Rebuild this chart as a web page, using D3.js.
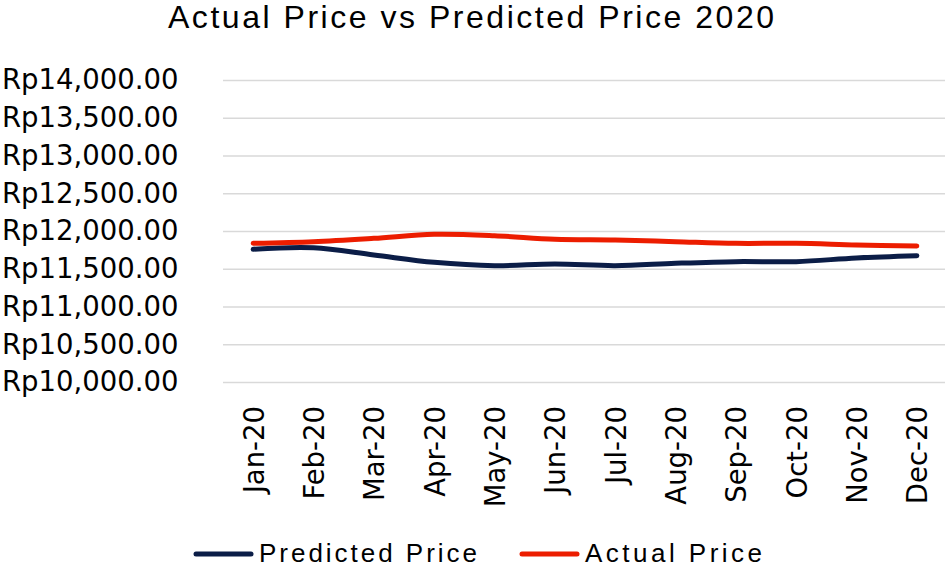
<!DOCTYPE html>
<html>
<head>
<meta charset="utf-8">
<script src="https://cdn.jsdelivr.net/npm/d3@7"></script>
<style>
  html, body { margin: 0; padding: 0; background: #fff; }
  svg { display: block; }
</style>
</head>
<body>
<div id="chart"></div>
<script>
// Actual vs predicted monthly price, 2020
var months    = ['Jan-20', 'Feb-20', 'Mar-20', 'Apr-20', 'May-20', 'Jun-20',
                 'Jul-20', 'Aug-20', 'Sep-20', 'Oct-20', 'Nov-20', 'Dec-20'];
var actual    = [11837, 11859, 11903, 11956, 11938, 11890, 11881, 11859, 11837, 11837, 11815, 11801];
var predicted = [11758, 11777, 11682, 11585, 11541, 11563, 11541, 11572, 11594, 11594, 11643, 11673];
var yTicks    = [10000, 10500, 11000, 11500, 12000, 12500, 13000, 13500, 14000];

var W = 945, H = 569;
var NAVY = '#0b1d47', RED = '#ec1d00';

var svg = d3.select('#chart').append('svg')
  .attr('width', W).attr('height', H)
  .attr('viewBox', '0 0 ' + W + ' ' + H);

var x = d3.scalePoint().domain(months).range([223, 947]).padding(0.5);
var y = d3.scaleLinear().domain([10000, 14000]).range([382, 80]);

var fmt = d3.format(',.2f');

// Title (stretched spacing to match the wider original face)
svg.append('text')
  .attr('x', 168).attr('y', 28)
  .attr('font-family', 'Liberation Sans, Arial, sans-serif')
  .attr('font-size', 32)
  .attr('textLength', 606)
  .attr('lengthAdjust', 'spacing')
  .attr('fill', '#000')
  .text('Actual Price vs Predicted Price 2020');

// Gridlines + y labels
var yAxis = d3.axisLeft(y)
  .tickValues(yTicks)
  .tickSize(-(947 - 223))
  .tickPadding(40)
  .tickFormat(function(d) { return 'Rp' + fmt(d); });

var gy = svg.append('g')
  .attr('transform', 'translate(223,0)')
  .call(yAxis);
gy.select('.domain').remove();
gy.selectAll('.tick line')
  .attr('stroke', '#d9d9d9')
  .attr('stroke-width', 1.5);
gy.selectAll('.tick text')
  .attr('x', -221)
  .attr('text-anchor', 'start')
  .attr('font-family', 'DejaVu Sans, sans-serif')
  .attr('font-size', 27.5)
  .attr('fill', '#000');

// X labels, rotated
var xAxis = d3.axisBottom(x).tickSize(0).tickPadding(0);
var gx = svg.append('g')
  .attr('transform', 'translate(0,382)')
  .call(xAxis);
gx.select('.domain').remove();
gx.selectAll('.tick text')
  .attr('transform', 'rotate(-90)')
  .attr('x', -24)
  .attr('y', 0)
  .attr('dy', '0.36em')
  .attr('text-anchor', 'end')
  .attr('font-family', 'DejaVu Sans, sans-serif')
  .attr('font-size', 27.5)
  .attr('fill', '#000');

// Lines
var line = d3.line()
  .x(function(d, i) { return x(months[i]); })
  .y(function(d) { return y(d); })
  .curve(d3.curveCatmullRom);

svg.append('path')
  .datum(predicted)
  .attr('d', line)
  .attr('fill', 'none')
  .attr('stroke', NAVY)
  .attr('stroke-width', 5)
  .attr('stroke-linecap', 'round')
  .attr('stroke-linejoin', 'round');

svg.append('path')
  .datum(actual)
  .attr('d', line)
  .attr('fill', 'none')
  .attr('stroke', RED)
  .attr('stroke-width', 5)
  .attr('stroke-linecap', 'round')
  .attr('stroke-linejoin', 'round');

// Legend
var legend = [
  { name: 'Predicted Price', color: NAVY, x: 196, w: 218 },
  { name: 'Actual Price',    color: RED,  x: 522, w: 177 }
];
var lg = svg.append('g').selectAll('g').data(legend).enter().append('g')
  .attr('transform', function(d) { return 'translate(' + d.x + ',554)'; });
lg.append('line')
  .attr('x1', 0).attr('x2', 55).attr('y1', 0).attr('y2', 0)
  .attr('stroke', function(d) { return d.color; })
  .attr('stroke-width', 5)
  .attr('stroke-linecap', 'round');
lg.append('text')
  .attr('x', 63).attr('y', 8)
  .attr('font-family', 'Liberation Sans, Arial, sans-serif')
  .attr('font-size', 26)
  .attr('textLength', function(d) { return d.w; })
  .attr('lengthAdjust', 'spacing')
  .attr('fill', '#000')
  .text(function(d) { return d.name; });
</script>
</body>
</html>
